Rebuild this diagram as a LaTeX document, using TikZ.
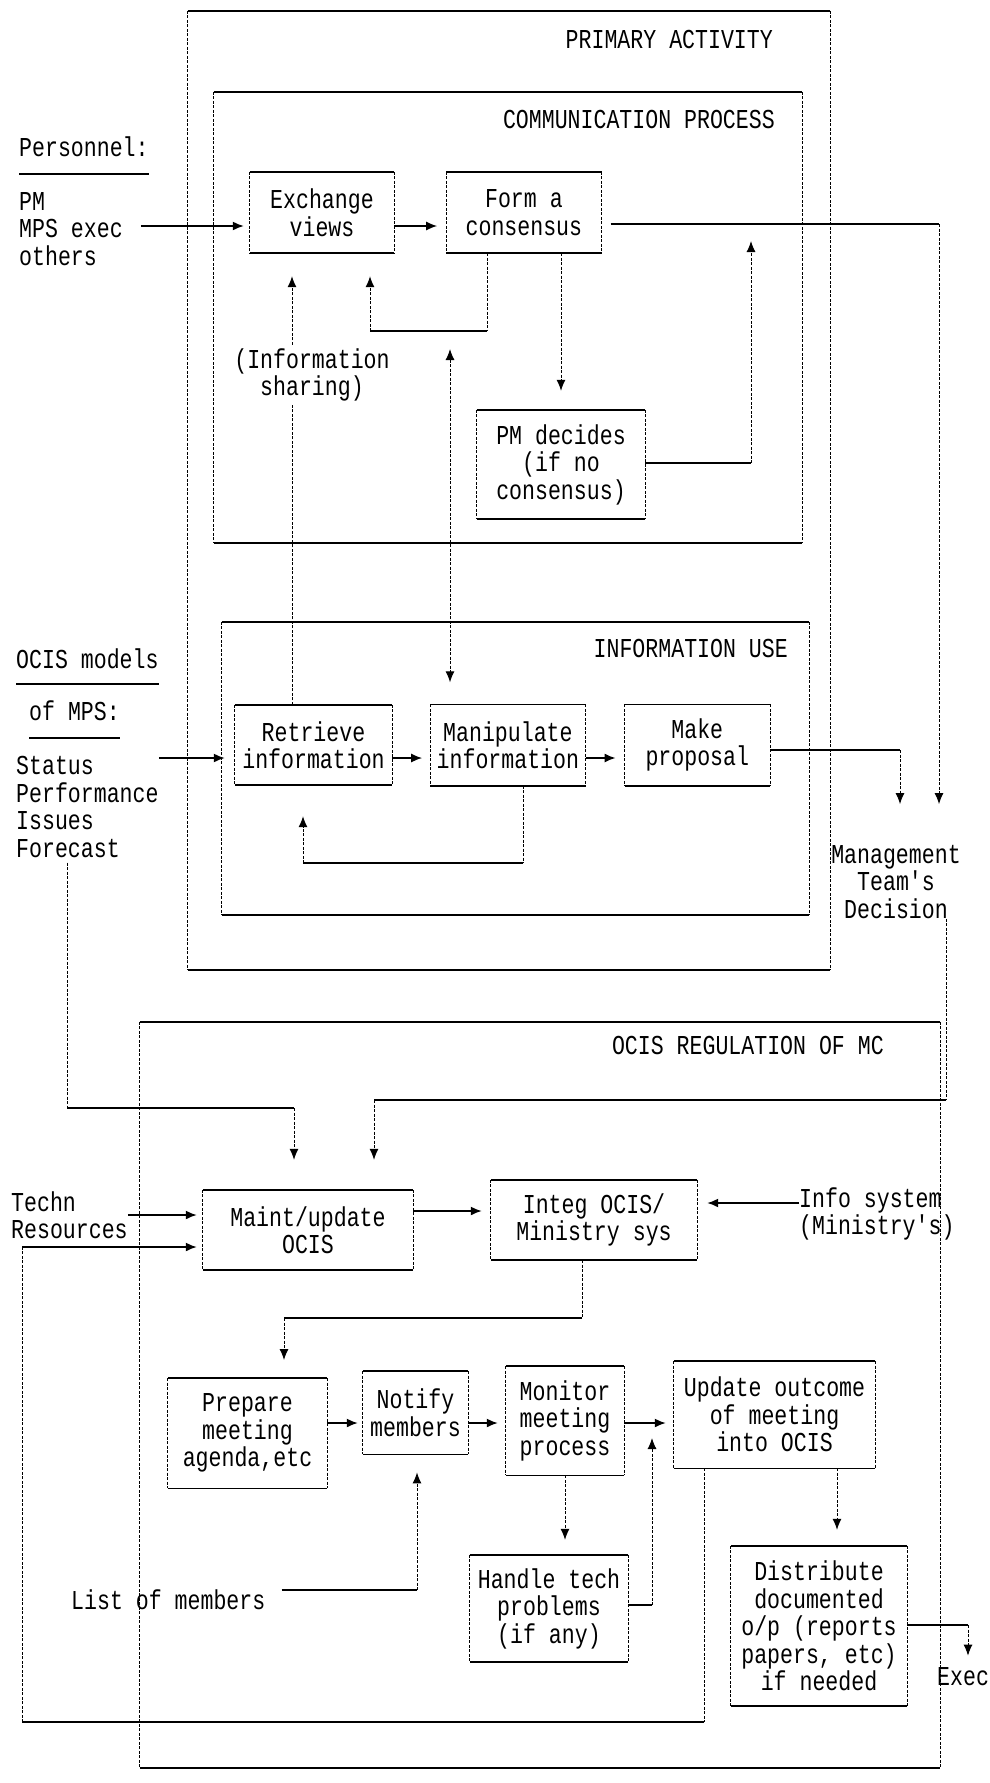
\documentclass[tikz,border=0pt]{standalone}
\usepackage{fontspec}
\newfontfamily\dotfont[FakeStretch=0.79]{Liberation Mono}
\usetikzlibrary{arrows.meta,positioning}

\begin{document}
\begin{tikzpicture}[
        x=1pt, y=-1pt,
        font=\dotfont\fontsize{27.3}{27.5}\selectfont,
        >={Latex[length=11pt,width=9pt]},
        hl/.style={line width=1.6pt},
        vl/.style={line width=1pt, dash pattern=on 3pt off 1.5pt},
        box/.style={inner sep=0pt, align=center,
            append after command={
                (\tikzlastnode.north west) edge[hl] (\tikzlastnode.north east)
                (\tikzlastnode.south west) edge[hl] (\tikzlastnode.south east)
                (\tikzlastnode.north west) edge[vl] (\tikzlastnode.south west)
                (\tikzlastnode.north east) edge[vl] (\tikzlastnode.south east)}},
        txt/.style={inner sep=0pt, align=left, anchor=west},
        frametitle/.style={inner sep=0pt, anchor=east}
    ]
    \useasboundingbox (0,0) rectangle (989,1783);

    \node[box, minimum width=642pt, minimum height=959pt] (primary) at (509,490.5) {};
    \node[box, minimum width=588pt, minimum height=451pt] (comm) at (508,317.5) {};
    \node[box, minimum width=587pt, minimum height=293pt] (infouse) at (515.5,768.5) {};
    \node[box, minimum width=800pt, minimum height=746pt] (ocisreg) at (540,1395) {};
    \node[frametitle] (primaryt) at (773,40) {PRIMARY ACTIVITY};
    \node[frametitle] (commt) at (775,119) {COMMUNICATION PROCESS};
    \node[frametitle] (infouset) at (788,648) {INFORMATION USE};
    \node[frametitle] (ocisregt) at (884,1045) {OCIS REGULATION OF MC};

    \node[box, minimum width=144pt, minimum height=81pt] (exch) at (322,212.5) {Exchange\\views};
    \node[box, minimum width=155pt, minimum height=81pt, right=52pt of exch] (form) {Form a\\consensus};
    \node[box, minimum width=168pt, minimum height=109pt] (pmdec) at (561,464.5) {PM decides\\(if no\\consensus)};
    \node[box, minimum width=157pt, minimum height=80pt] (retr) at (313.5,745) {Retrieve\\information};
    \node[box, minimum width=155pt, minimum height=81pt, right=38pt of retr] (manip) {Manipulate\\information};
    \node[box, minimum width=145pt, minimum height=81pt, right=39pt of manip] (prop) {Make\\proposal};
    \node[box, minimum width=210pt, minimum height=80pt] (maint) at (308,1230) {Maint/update\\OCIS};
    \node[box, minimum width=206pt, minimum height=80pt] (integ) at (594,1220) {Integ OCIS/\\Ministry sys};
    \node[box, minimum width=159pt, minimum height=110pt, anchor=north] (prep) at (247.5,1378) {Prepare\\meeting\\agenda,etc};
    \node[box, minimum width=105pt, minimum height=83pt, anchor=north] (notify) at (415.5,1371) {Notify\\members};
    \node[box, minimum width=118pt, minimum height=109pt, anchor=north] (monitor) at (565,1366) {Monitor\\meeting\\process};
    \node[box, minimum width=201pt, minimum height=107pt, anchor=north] (update) at (774.5,1361) {Update outcome\\of meeting\\into OCIS};
    \node[box, minimum width=158pt, minimum height=107pt] (handle) at (549,1608.5) {Handle tech\\problems\\(if any)};
    \node[box, minimum width=176pt, minimum height=160pt] (distr) at (819,1626) {Distribute\\documented\\o/p (reports\\papers, etc)\\if needed};

    \node[txt] (pers) at (19,147) {Personnel:};
    \node[txt] (staff) at (19,229) {PM\\MPS exec\\others};
    \node[txt] (ocism) at (16,659) {OCIS models};
    \node[txt] (ofmps) at (29,711) {of MPS:};
    \node[txt] (stat) at (16,807) {Status\\Performance\\Issues\\Forecast};
    \node[inner sep=0pt, align=center] (mtd) at (896,882) {Management\\Team's\\Decision};
    \node[txt] (techn) at (11,1215) {Techn\\Resources};
    \node[txt] (info) at (799,1214) {Info system\\(Ministry's)};
    \node[txt] (list) at (71,1600) {List of members};
    \node[txt] (exec) at (937,1677) {Exec};

    \draw[hl] ([yshift=-17pt]pers.south west) -- ([yshift=-17pt]pers.south east);
    \draw[hl] ([yshift=-15pt]ocism.south west) -- ([yshift=-15pt]ocism.south east);
    \draw[hl] ([yshift=-17pt]ofmps.south west) -- ([yshift=-17pt]ofmps.south east);

    \coordinate (row1) at (0,226);
    \coordinate (row2) at (0,758);
    \coordinate (row3) at (0,1211);
    \coordinate (row4) at (0,1423);

    \draw[hl,->,shorten <=18pt,shorten >=6pt] (staff.east |- row1) -- (exch.west |- row1);
    \draw[hl,->,shorten >=9pt] (exch.east |- row1) -- (form.west |- row1);

    \coordinate (consout) at (939,224);
    \draw[hl,shorten <=9pt] (form.east |- consout) -- (consout);
    \draw[vl,->,shorten >=41pt] (consout) -- (consout |- mtd.north);

    \coordinate (loopr) at (487,331);
    \coordinate (loopl) at (370,331);
    \draw[vl] (form.south -| loopr) -- (loopr);
    \draw[hl] (loopr) -- (loopl);
    \draw[vl,->,shorten >=23pt] (loopl) -- (loopl |- exch.south);

    \draw[vl,->,shorten >=23pt] ([xshift=-21.5pt]retr.north) -- ([xshift=-21.5pt]retr.north |- exch.south);
    \node[fill=white, inner sep=4pt, align=center] (shr) at (312,375) {(Information\\sharing)};

    \coordinate (talk) at (450,331);
    \draw[vl,<->,shorten <=18pt,shorten >=22pt] (talk) -- (talk |- manip.north);

    \draw[vl,->,shorten >=19pt] (pmdec.north |- form.south) -- (pmdec.north);
    \coordinate (pmout) at (751,463);
    \draw[hl] (pmdec.east |- pmout) -- (pmout);
    \draw[vl,->,shorten >=17pt] (pmout) -- (pmout |- consout);

    \draw[hl,->,shorten >=10pt] (stat.east |- row2) -- (retr.west |- row2);
    \draw[hl,->,shorten >=8pt] (retr.east |- row2) -- (manip.west |- row2);
    \draw[hl,->,shorten >=9pt] (manip.east |- row2) -- (prop.west |- row2);

    \coordinate (propout) at (900,750);
    \draw[hl] (prop.east |- propout) -- (propout);
    \draw[vl,->,shorten >=41pt] (propout) -- (propout |- mtd.north);

    \coordinate (manipr) at (523,863);
    \coordinate (manipl) at (303,863);
    \draw[vl] (manip.south -| manipr) -- (manipr);
    \draw[hl] (manipr) -- (manipl);
    \draw[vl,->,shorten >=31pt] (manipl) -- (manipl |- retr.south);

    \coordinate (mtdr) at (946,1100);
    \coordinate (mtdl) at (374,1100);
    \draw[vl] (mtd.south -| mtdr) -- (mtdr);
    \draw[hl] (mtdr) -- (mtdl);
    \draw[vl,->,shorten >=30pt] (mtdl) -- (mtdl |- maint.north);

    \coordinate (statl) at (67,1108);
    \coordinate (statr) at (294,1108);
    \draw[vl,shorten <=5pt] (stat.south -| statl) -- (statl);
    \draw[hl] (statl) -- (statr);
    \draw[vl,->,shorten >=30pt] (statr) -- (statr |- maint.north);

    \draw[hl,->,shorten >=6pt] (techn.east) -- (techn.east -| maint.west);

    \coordinate (updr) at (704,1722);
    \coordinate (updl) at (22,1722);
    \coordinate (updin) at (22,1247);
    \draw[vl] (update.south -| updr) -- (updr);
    \draw[hl] (updr) -- (updl);
    \draw[vl] (updl) -- (updin);
    \draw[hl,->,shorten >=6pt] (updin) -- (updin -| maint.west);

    \draw[hl,->,shorten >=9pt] (maint.east |- row3) -- (integ.west |- row3);
    \draw[hl,->,shorten >=10pt] ([yshift=11pt]info.west) -- ([yshift=11pt]info.west -| integ.east);

    \coordinate (integr) at (582,1318);
    \coordinate (integl) at (284,1318);
    \draw[vl] (integ.south -| integr) -- (integr);
    \draw[hl] (integr) -- (integl);
    \draw[vl,->,shorten >=18pt] (integl) -- (integl |- prep.north);

    \draw[hl,->,shorten >=5pt] (prep.east |- row4) -- (notify.west |- row4);
    \draw[hl,->,shorten >=8pt] (notify.east |- row4) -- (monitor.west |- row4);
    \draw[hl,->,shorten >=8pt] (monitor.east |- row4) -- (update.west |- row4);

    \coordinate (listout) at (417,1590);
    \draw[hl,shorten <=16pt] (list.east |- listout) -- (listout);
    \draw[vl,->,shorten >=18pt] (listout) -- (listout |- notify.south);

    \draw[vl,->,shorten >=15pt] (monitor.south) -- (monitor.south |- handle.north);
    \coordinate (handout) at (652,1605);
    \draw[hl] (handle.east |- handout) -- (handout);
    \draw[vl,->,shorten >=15pt] (handout) -- (handout |- row4);

    \draw[vl,->,shorten >=16pt] ([xshift=18pt]distr.north |- update.south) -- ([xshift=18pt]distr.north);
    \coordinate (execin) at (968,1625);
    \draw[hl] (distr.east |- execin) -- (execin);
    \draw[vl,->,shorten >=12pt] (execin) -- (execin |- exec.north);
\end{tikzpicture}
\end{document}
